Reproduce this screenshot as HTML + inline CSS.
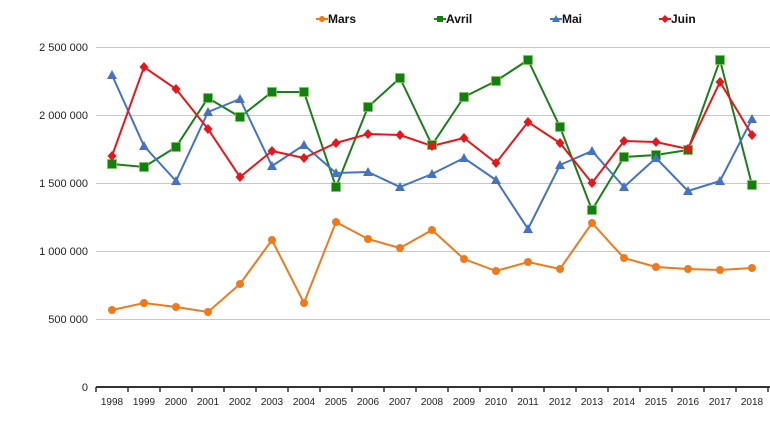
<!DOCTYPE html>
<html><head><meta charset="utf-8"><style>
html,body{margin:0;padding:0;background:#fff;width:770px;height:436px;overflow:hidden}
svg{display:block;font-family:"Liberation Sans",sans-serif}
</style></head><body>
<svg id="c" width="770" height="436" xmlns="http://www.w3.org/2000/svg">
<g stroke="#c8c8c8" stroke-width="1">
<line x1="96" y1="47.5" x2="770" y2="47.5"/>
<line x1="96" y1="115.5" x2="770" y2="115.5"/>
<line x1="96" y1="183.5" x2="770" y2="183.5"/>
<line x1="96" y1="251.5" x2="770" y2="251.5"/>
<line x1="96" y1="319.5" x2="770" y2="319.5"/>
</g>
<line x1="96" y1="387" x2="770" y2="387" stroke="#333" stroke-width="2"/>
<g font-size="11" fill="#222" text-anchor="end">
<text x="88" y="51">2 500 000</text>
<text x="88" y="119">2 000 000</text>
<text x="88" y="187">1 500 000</text>
<text x="88" y="255">1 000 000</text>
<text x="88" y="323">500 000</text>
<text x="88" y="391">0</text>
</g>
<g id="ticks"></g>
<g id="series"></g>
<g font-size="12" font-weight="bold" fill="#111">
<line x1="316" y1="19" x2="328" y2="19" stroke="#f07a10" stroke-width="2"/><circle cx="322" cy="19" r="3" fill="#f07a10"/><text x="328" y="23">Mars</text>
<line x1="434" y1="19" x2="446" y2="19" stroke="#1a8a1a" stroke-width="2"/><rect x="437" y="16" width="6" height="6" fill="#108010"/><text x="446" y="23">Avril</text>
<line x1="550" y1="19" x2="562" y2="19" stroke="#4472c4" stroke-width="2"/><polygon points="556,15 560,22 552,22" fill="#4472c4"/><text x="562" y="23">Mai</text>
<line x1="659" y1="19" x2="671" y2="19" stroke="#e8161b" stroke-width="2"/><polygon points="665,15 669,19 665,23 661,19" fill="#e8161b"/><text x="671" y="23">Juin</text>
</g>
</svg>
<script>
var NS="http://www.w3.org/2000/svg";
function el(t,a,p){var e=document.createElementNS(NS,t);for(var k in a)e.setAttribute(k,a[k]);p.appendChild(e);return e;}
var tk=document.getElementById('ticks'),sg=document.getElementById('series');
function X(i){return 112+i*32;}
for(var i=0;i<=21;i++){el('line',{x1:96+i*32,y1:387,x2:96+i*32,y2:392,stroke:'#333','stroke-width':1.5},tk);}
for(var i=0;i<21;i++){var t=el('text',{x:X(i),y:405,'font-size':10,'text-anchor':'middle',fill:'#222'},tk);t.textContent=1998+i;}
var S=[
{c:'#ef7a1c',m:'o',d:[310,303,307,312,284,240,303,222,239,248,230,259,271,262,269,223,258,267,269,270,268]},
{c:'#1a7f1a',m:'s',d:[164,167,147,98,117,92,92,187,107,78,145,97,81,60,127,210,157,155,150,60,185]},
{c:'#4472c4',m:'t',d:[75,146,181,112,99,166,145,173,172,187,174,158,180,229,165,151,187,158,191,181,119]},
{c:'#e8161b',m:'d',d:[156,67,89,129,177,151,158,143,134,135,146,138,163,122,143,183,141,142,149,82,135]}];
S.forEach(function(s){
 var p=s.d.map(function(y,i){return X(i)+','+y}).join(' ');
 el('polyline',{points:p,fill:'none',stroke:s.c,'stroke-width':2},sg);
});
S.forEach(function(s){
 s.d.forEach(function(y,i){var x=X(i);
  if(s.m=='o')el('circle',{cx:x,cy:y,r:4,fill:s.c},sg);
  else if(s.m=='s')el('rect',{x:x-4.5,y:y-4.5,width:9,height:9,fill:'#108010',stroke:'#7ec850','stroke-width':0.8},sg);
  else if(s.m=='t')el('polygon',{points:x+','+(y-5)+' '+(x+5)+','+(y+4)+' '+(x-5)+','+(y+4),fill:s.c},sg);
  else el('polygon',{points:x+','+(y-5)+' '+(x+4.5)+','+y+' '+x+','+(y+5)+' '+(x-4.5)+','+y,fill:s.c},sg);
 });
});
</script>
</body></html>
